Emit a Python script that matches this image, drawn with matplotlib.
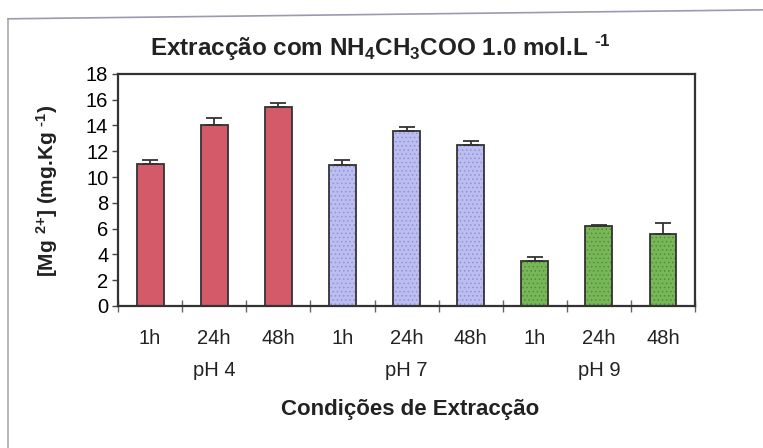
import numpy as np
import matplotlib
matplotlib.use("Agg")
import matplotlib.pyplot as plt
from matplotlib.lines import Line2D

plt.rcParams['font.family'] = ['Liberation Sans', 'DejaVu Sans']
plt.rcParams['mathtext.fontset'] = 'custom'
plt.rcParams['mathtext.rm'] = 'Liberation Sans:bold'
plt.rcParams['mathtext.it'] = 'Liberation Sans:bold'
plt.rcParams['mathtext.bf'] = 'Liberation Sans:bold'
plt.rcParams['mathtext.default'] = 'rm'
plt.rcParams['hatch.linewidth'] = 0.6

# Dados: concentração de Mg extraída por pH e tempo
tempos = ['1h', '24h', '48h']
grupos_ph = ['pH 4', 'pH 7', 'pH 9']
mg_ph4 = [11.0, 14.0, 15.4]
mg_ph7 = [10.9, 13.6, 12.5]
mg_ph9 = [3.5, 6.2, 5.6]
erro_ph4 = [0.3, 0.6, 0.35]
erro_ph7 = [0.45, 0.3, 0.3]
erro_ph9 = [0.3, 0.1, 0.8]

cores = ['#d45a6a', '#bcbdf0', '#78b658']
texturas = [None, '....', '....']
cores_textura = [None, '#8f93d8', '#4f8f3a']

fig = plt.figure(figsize=(7.63, 4.48), dpi=100)
ax = fig.add_axes([0.1547, 0.317, 0.7563, 0.518])

valores = [mg_ph4, mg_ph7, mg_ph9]
erros = [erro_ph4, erro_ph7, erro_ph9]
for g in range(3):
    x = np.arange(3) + 3 * g
    barras = ax.bar(x, valores[g], width=0.42, color=cores[g],
                    edgecolor='#333333', linewidth=1.3, zorder=2)
    if texturas[g]:
        for b in barras:
            b.set_hatch(texturas[g])
            b._hatch_color = matplotlib.colors.to_rgba(cores_textura[g])
    ax.errorbar(x, valores[g], yerr=[np.zeros(3), erros[g]], fmt='none',
                ecolor='#333333', elinewidth=1.3, capsize=6, capthick=1.3, zorder=3)

ax.set_xlim(-0.5, 8.5)
ax.set_ylim(0, 18)
ax.set_yticks(range(0, 19, 2))
ax.tick_params(axis='y', labelsize=14.5, direction='out', length=4, width=1, color='#444444', pad=3)

# marcas nas fronteiras entre categorias
ax.set_xticks(np.arange(-0.5, 9, 1))
ax.set_xticklabels([])
ax.tick_params(axis='x', direction='inout', length=8, width=1, color='#666666')
for i in range(9):
    ax.text(i, -0.14, tempos[i % 3], transform=ax.get_xaxis_transform(),
            ha='center', va='center', fontsize=14.5, color='#222222')
for g in range(3):
    ax.text(3 * g + 1, -0.28, grupos_ph[g], transform=ax.get_xaxis_transform(),
            ha='center', va='center', fontsize=14.5, color='#222222')

for s in ax.spines.values():
    s.set_color('#333333')
    s.set_linewidth(1.6)

fig.text(0.499, 0.893, r'Extracção com NH$_4$CH$_3$COO 1.0 mol.L $^{\text{-1}}$',
         ha='center', va='center', fontsize=17.5, fontweight='bold', color='#222222')
fig.text(0.062, 0.575, r'[Mg $^{\text{2+}}$] (mg.Kg $^{\text{-1}}$)', rotation=90,
         ha='center', va='center', fontsize=15, fontweight='bold', color='#222222')
fig.text(0.538, 0.087, 'Condições de Extracção', ha='center', va='center',
         fontsize=16, fontweight='bold', color='#222222')

# moldura exterior do gráfico
fig.add_artist(Line2D([0.0105, 0.0105], [0.0, 0.958], transform=fig.transFigure,
                      color='#aaaaaa', linewidth=1.2))
fig.add_artist(Line2D([0.0105, 1.0], [0.958, 0.978], transform=fig.transFigure,
                      color='#9a9ab0', linewidth=1.2))

fig.savefig('out.png', dpi=100, facecolor='white')
